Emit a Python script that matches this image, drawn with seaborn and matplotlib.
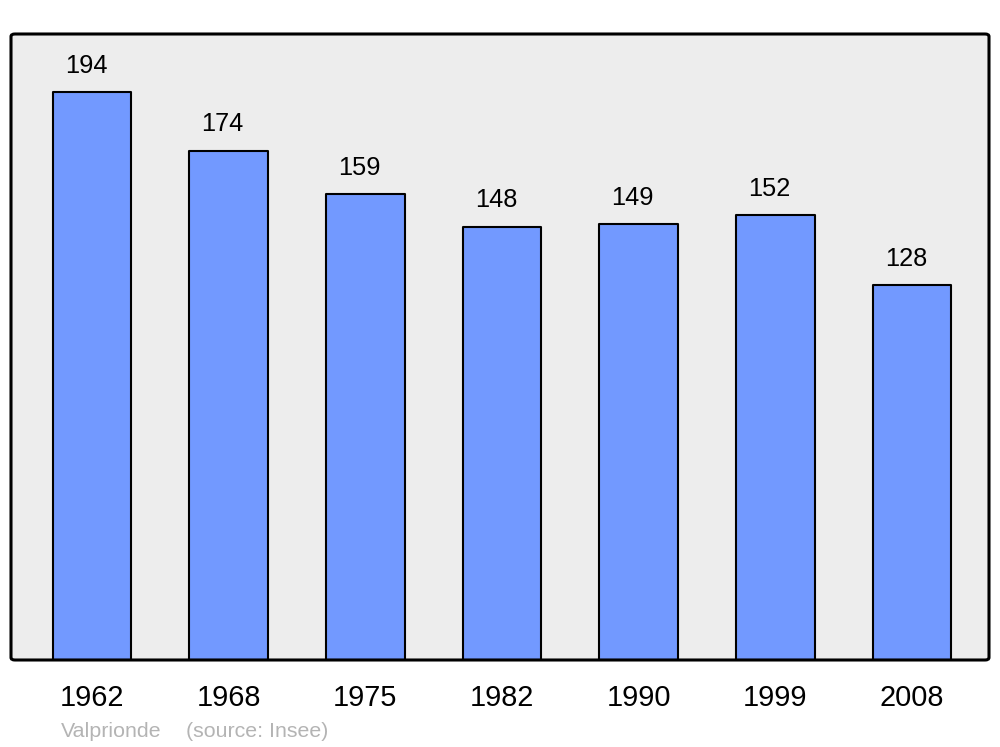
import matplotlib
matplotlib.use("Agg")
import matplotlib.pyplot as plt
import seaborn as sns
import pandas as pd
from matplotlib.patches import FancyBboxPatch

years = ["1962", "1968", "1975", "1982", "1990", "1999", "2008"]
population = [194, 174, 159, 148, 149, 152, 128]
source_name = "Valprionde"
source_note = "(source: Insee)"

sns.set_theme(style="white")
plt.rcParams['font.family'] = ['Liberation Sans', 'DejaVu Sans']

df = pd.DataFrame({"year": years, "pop": population})

fig = plt.figure(figsize=(10, 7.47), dpi=100)
ax = fig.add_axes([0.011, 87/747, 0.978, 626/747])
ax.set_facecolor("#ededed")

sns.barplot(data=df, x="year", y="pop", ax=ax, color="#7299ff", saturation=1,
            width=0.575, edgecolor="black", linewidth=1.5)
for p in ax.patches:
    p.set_joinstyle("round")

ax.set_xlim(-0.593, 6.563)
ax.set_ylim(0, 213.8)
ax.set_xlabel("")
ax.set_ylabel("")
ax.set_yticks([])
ax.tick_params(axis="x", length=0, pad=17, labelsize=20.8, labelcolor="black")

for s in ax.spines.values():
    s.set_visible(False)
frame = FancyBboxPatch((0, 0), 1, 1, boxstyle="round,pad=0,rounding_size=0.004",
                       transform=ax.transAxes, facecolor="none", edgecolor="black",
                       linewidth=2.2, clip_on=False, zorder=5)
ax.add_patch(frame)

for i, v in enumerate(population):
    ax.annotate(str(v), (i, v), xytext=(-4.3, 13.8), textcoords="offset points",
                ha="center", va="baseline", fontsize=18.3, color="black")

fig.text(61/1000, 1 - 737/747, source_name, fontsize=15.4, color="#b4b4b4", va="baseline")
fig.text(186/1000, 1 - 737/747, source_note, fontsize=15.4, color="#b4b4b4", va="baseline")

fig.savefig("out.png", dpi=100, facecolor="white")
